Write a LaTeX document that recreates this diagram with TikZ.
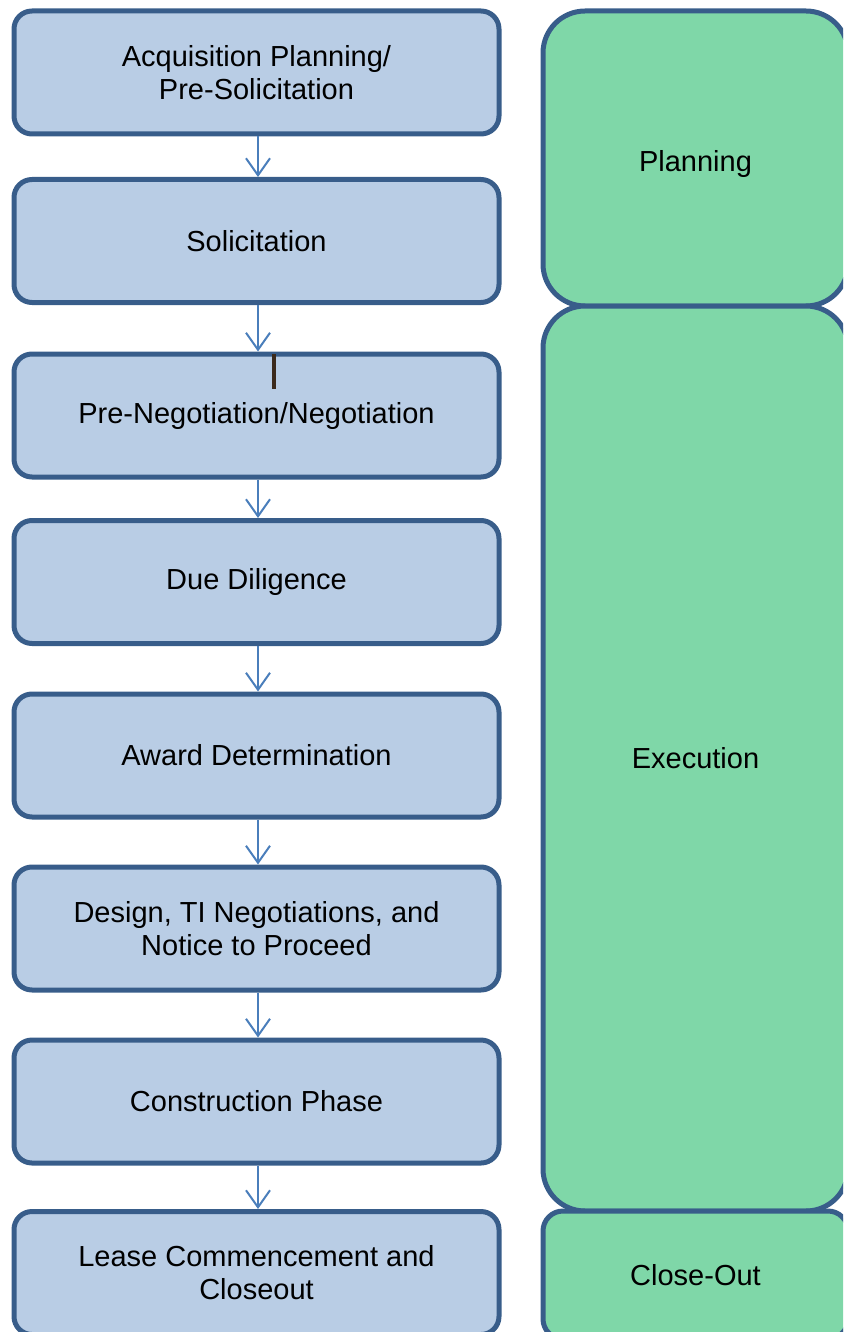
\documentclass[tikz,border=0pt]{standalone}
\usepackage{fontspec}
\setmainfont{Liberation Sans}
\usetikzlibrary{arrows.meta}
\definecolor{stepfill}{HTML}{B9CDE5}
\definecolor{edgeblue}{HTML}{385D8A}
\definecolor{phasefill}{HTML}{7FD7A8}
\definecolor{arrowblue}{HTML}{4A7EBB}
\definecolor{markbrown}{HTML}{3B2A1C}
\begin{document}
\begin{tikzpicture}[x=1pt,y=-1pt,
  stepbox/.style={draw=edgeblue, fill=stepfill, line width=5pt, rounded corners=18pt,
    minimum width=485pt, minimum height=123pt, inner sep=0pt, align=center,
    font=\fontsize{29}{33}\selectfont},
  phasebox/.style={draw=edgeblue, fill=phasefill, line width=5pt, rounded corners=42pt,
    minimum width=305pt, inner sep=0pt, align=center,
    font=\fontsize{29}{33}\selectfont},
  flow/.style={draw=arrowblue, line width=2pt,
    -{Straight Barb[length=17pt,width=24pt,line width=2pt]}}
]
\useasboundingbox (0,0) rectangle (843,1332);
\clip (0,0) rectangle (843,1332);

% phase column
\node[phasebox, minimum height=295pt, text height=33pt, text depth=6pt] (planning) at (695.5,158.5) {Planning};
\node[phasebox, minimum height=905pt] (execution) at (695.5,758.5) {Execution};
\node[phasebox, minimum height=128pt, rounded corners=20pt] (closeout) at (695.5,1275) {Close-Out};

% process steps
\node[stepbox] (s1) at (256.5,72.5) {Acquisition Planning/\\Pre-Solicitation};
\node[stepbox] (s2) at (256.5,241) {Solicitation};
\node[stepbox] (s3) at (256.5,415.5) {Pre-Negotiation/Negotiation};
\node[stepbox] (s4) at (256.5,582) {Due Diligence};
\node[stepbox] (s5) at (256.5,755.5) {Award Determination};
\node[stepbox] (s6) at (256.5,928.5) {Design, TI Negotiations, and\\Notice to Proceed};
\node[stepbox] (s7) at (256.5,1101.5) {Construction Phase};
\node[stepbox] (s8) at (256.5,1273) {Lease Commencement and\\Closeout};

% connectors between steps
\foreach \a/\b in {s1/s2, s2/s3, s3/s4, s4/s5, s5/s6, s6/s7, s7/s8}
  \draw[flow] ([xshift=1.5pt]\a.south) -- ([xshift=1.5pt]\b.north);

% small cursor mark inside the third step
\fill[markbrown] (272,354) rectangle (276,389);
\end{tikzpicture}
\end{document}
